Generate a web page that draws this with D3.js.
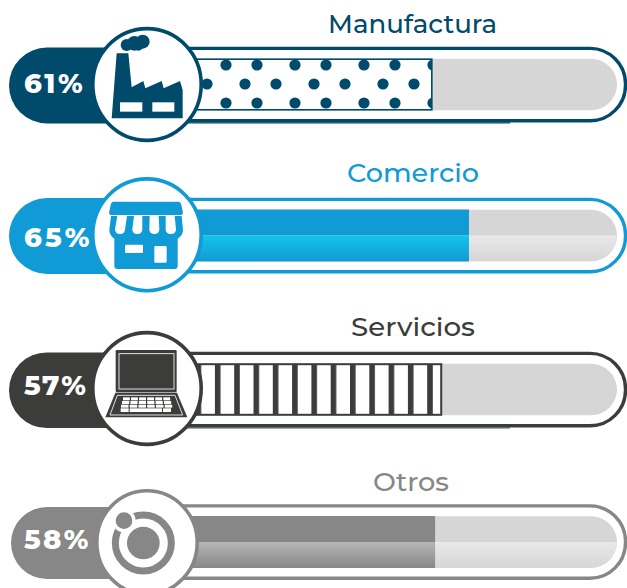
<!DOCTYPE html>
<html><head><meta charset="utf-8">
<script src="https://cdn.jsdelivr.net/npm/d3@7/dist/d3.min.js"></script>
<style>html,body{margin:0;padding:0;background:#fff}svg{display:block}</style></head>
<body><div id="chart"></div>
<script>
// ---- data ----
const categories = ["Manufactura", "Comercio", "Servicios", "Otros"];
const percentLabels = [61, 65, 57, 58];
// length of each bar as drawn in the picture, in % of the track
const barLevels = [60.6, 68.5, 62.6, 61.3];
const colors = ["#004a6c", "#109ad6", "#3c3c3b", "#878787"];

// ---- layout ----
const W = 627, H = 588;
const svg = d3.select("#chart").append("svg").attr("width", W).attr("height", H);
const font = "Montserrat, Inter, 'Open Sans', sans-serif";
const y = d3.scaleOrdinal().domain(categories).range([84.5, 235.5, 389.5, 542]);
const x = d3.scaleLinear().domain([0, 100]).range([147, 617]);
const circleR = [56, 56, 56, 52];
const circleNudge = [0, -0.7, -1, 0.5];
const pillLeft = [9, 9, 9, 11];
const pillTop = [-37, -37.5, -37, -35];
const pillHeight = [76, 76, 75.5, 72];
const titleLeft = [328, 347, 351, 373];
const titleWidth = [169, 132, 124, 76];
const labelWidth = [58.7, 65.3, 62, 64.3];
const labelBase = [8.2, 11, 5.5, 7];
const titleBase = [-51.5, -53.5, -53.5, -51];
const halfH = 26, outerH = 36.5, trackRight = x(100);

const defs = svg.append("defs");
// dots pattern
const dots = defs.append("pattern").attr("id", "dots").attr("patternUnits", "userSpaceOnUse")
  .attr("x", 200).attr("y", 55).attr("width", 69).attr("height", 38);
[[26,10],[57,10],[7,29],[45,29]].forEach(p =>
  dots.append("circle").attr("cx", p[0]).attr("cy", p[1]).attr("r", 5.6).attr("fill", colors[0]));
// stripes pattern
defs.append("pattern").attr("id", "stripes").attr("patternUnits", "userSpaceOnUse")
  .attr("x", 350).attr("y", 0).attr("width", 19.3).attr("height", 10)
  .append("rect").attr("width", 5.6).attr("height", 10).attr("fill", colors[2]);
function grad(id, a, b) {
  const g = defs.append("linearGradient").attr("id", id).attr("x1", 0).attr("x2", 0).attr("y1", 0).attr("y2", 1);
  g.append("stop").attr("offset", 0).attr("stop-color", a);
  g.append("stop").attr("offset", 1).attr("stop-color", b);
}
grad("glossBlue", "#14c4e8", "#109ad6");
grad("glossGrey", "#b7b7b7", "#878787");
grad("glossTrack", "#e9e9e9", "#d6d6d6");

const drawIcon = [drawFactory, drawStore, drawLaptop, drawOther];
const rows = svg.selectAll("g.row").data(categories).join("g").attr("class", "row");

rows.each(function (cat, i) {
  const g = d3.select(this), cy = y(cat), col = colors[i], rx = x(barLevels[i]);
  const L = pillLeft[i];
  // outer capsule
  g.append("rect").attr("x", x(0) - 60).attr("y", cy - outerH + .4).attr("width", 625.5 - x(0) + 60)
    .attr("height", outerH * 2 - .6).attr("rx", 35.5).attr("fill", "#fff").attr("stroke", col).attr("stroke-width", 3.4);
  // extra line under the capsule
  if (i === 0 || i === 2) {
    g.append("line").attr("x1", 110).attr("x2", 510).attr("y1", cy + outerH + 1.8).attr("y2", cy + outerH + 1.8)
      .attr("stroke", i === 0 ? col : "#4a5b63").attr("stroke-width", 1.2);
  }
  // track
  g.append("rect").attr("x", x(0) - 40).attr("y", cy - halfH + .2).attr("width", trackRight - x(0) + 40)
    .attr("height", halfH * 2 - .4).attr("rx", 26).attr("fill", "#d6d6d6");
  const glossy = i === 1 || i === 3;
  if (glossy) {
    const clipId = "clip" + i;
    defs.append("clipPath").attr("id", clipId).append("rect").attr("x", x(0) - 40).attr("y", cy - halfH + .2)
      .attr("width", trackRight - x(0) + 40).attr("height", halfH * 2 - .4).attr("rx", 26);
    g.append("rect").attr("x", x(0)).attr("y", cy).attr("width", trackRight - x(0)).attr("height", halfH)
      .attr("fill", "url(#glossTrack)").attr("clip-path", `url(#${clipId})`);
    g.append("rect").attr("x", x(0)).attr("y", cy - halfH).attr("width", rx - x(0)).attr("height", halfH).attr("fill", col);
    g.append("rect").attr("x", x(0)).attr("y", cy).attr("width", rx - x(0)).attr("height", halfH)
      .attr("fill", i === 1 ? "url(#glossBlue)" : "url(#glossGrey)");
  } else {
    g.append("rect").attr("x", x(0)).attr("y", cy - halfH + .7).attr("width", rx - x(0)).attr("height", halfH * 2 - 1.4)
      .attr("fill", "#fff").attr("stroke", "none");
    g.append("rect").attr("x", x(0)).attr("y", cy - halfH + .7).attr("width", rx - x(0)).attr("height", halfH * 2 - 1.4)
      .attr("fill", i === 0 ? "url(#dots)" : "url(#stripes)").attr("stroke", col).attr("stroke-width", i === 0 ? 1.6 : 2);
  }
  // left pill
  g.append("rect").attr("x", L).attr("y", cy + pillTop[i]).attr("width", x(0) - L).attr("height", pillHeight[i])
    .attr("rx", pillHeight[i] / 2).attr("fill", col);
  // circle (slightly taller than wide, as in the picture)
  g.append("ellipse").attr("cx", x(0)).attr("cy", cy + circleNudge[i]).attr("rx", circleR[i] - 1.8).attr("ry", circleR[i] * 1.03 - 1.8)
    .attr("fill", "#fff").attr("stroke", col).attr("stroke-width", 3.6);
  // icon, drawn in units of 1/3 px
  const icon = g.append("g").attr("fill", col);
  const iconY = [253.5, 226.5, 208.5, 216][i];
  icon.attr("transform", `translate(${x(0)},${cy}) scale(${1 / 3}) translate(-441,${-iconY})`);
  drawIcon[i](icon, col);
  // percentage
  g.append("text").attr("x", 24).attr("y", cy + labelBase[i]).attr("fill", "#fff")
    .attr("font-family", font).attr("font-weight", 800).attr("font-size", 27.5)
    .attr("textLength", labelWidth[i]).attr("lengthAdjust", "spacing")
    .text(percentLabels[i] + "%");
  // title
  g.append("text").attr("x", titleLeft[i]).attr("y", cy + titleBase[i]).attr("fill", col)
    .attr("font-family", font).attr("font-weight", 500).attr("font-size", 26)
    .attr("textLength", titleWidth[i]).attr("lengthAdjust", "spacingAndGlyphs")
    .text(cat);
});

function drawFactory(s) {
  s.append("path").attr("d", "M350 160H385L395 262L430 243L436 265L485 243L491 265L540 243L548 270V355H335Z");
  s.append("rect").attr("x", 360).attr("y", 307).attr("width", 67).attr("height", 28).attr("fill", "#fff");
  s.append("rect").attr("x", 457).attr("y", 307).attr("width", 66).attr("height", 28).attr("fill", "#fff");
  [[380,135,18],[403,130,22],[428,125,21],[415,138,14]].forEach(c =>
    s.append("circle").attr("cx", c[0]).attr("cy", c[1]).attr("r", c[2]));
}
function drawStore(s) {
  s.append("path").attr("d", "M340 125H535Q542 125 544 135L549 158Q549 165 542 165H334Q327 165 327 158L332 135Q334 125 340 125Z");
  s.append("path").attr("d", "M333 168H545L549 210Q548 228 533 236V318Q533 327 524 327H352Q343 327 343 318V236Q329 228 328 210Z");
  [[352,381,345,375],[402,427,397,427],[449,476,448,478],[497,524,497,528]].forEach(w => {
    s.append("path").attr("fill", "#fff").attr("d",
      `M${w[0]} 168H${w[1]}L${w[3]} 208Q${w[3]} 222 ${(w[2] + w[3]) / 2} 222Q${w[2]} 222 ${w[2]} 208Z`);
  });
  s.append("rect").attr("x", 375).attr("y", 254).attr("width", 54).attr("height", 25).attr("rx", 3).attr("fill", "#fff");
  s.append("rect").attr("x", 463).attr("y", 258).attr("width", 37).attr("height", 50).attr("rx", 3).attr("fill", "#fff");
}
function drawLaptop(s) {
  s.append("rect").attr("x", 347).attr("y", 90).attr("width", 183).attr("height", 127).attr("rx", 4);
  s.append("rect").attr("x", 357).attr("y", 101).attr("width", 165).attr("height", 106)
    .attr("fill", "none").attr("stroke", "#fff").attr("stroke-width", 2.5);
  s.append("path").attr("d", "M346 218H531L562 292H316Z");
  s.append("path").attr("d", "M352 226H525L548 285H330Z").attr("fill", "none").attr("stroke", "#fff").attr("stroke-width", 2.5);
  const rowsY = [232, 243, 254], xs = d3.range(6);
  rowsY.forEach((ky, r) => xs.forEach(k => {
    const w = 23 + r, left = 369 - r * 3 + k * (w + 1.2);
    s.append("rect").attr("x", left).attr("y", ky).attr("width", w - 2.5).attr("height", 9).attr("fill", "#fff");
  }));
  s.append("rect").attr("x", 362).attr("y", 265).attr("width", 24).attr("height", 11).attr("fill", "#fff");
  s.append("rect").attr("x", 389).attr("y", 265).attr("width", 97).attr("height", 11).attr("fill", "#fff");
  s.append("rect").attr("x", 489).attr("y", 265).attr("width", 24).attr("height", 11).attr("fill", "#fff");
}
function drawOther(s) {
  s.append("circle").attr("cx", 430).attr("cy", 219).attr("r", 84).attr("fill", "none").attr("stroke", colors[3]).attr("stroke-width", 21);
  s.append("circle").attr("cx", 430).attr("cy", 219).attr("r", 49);
  s.append("circle").attr("cx", 372).attr("cy", 152).attr("r", 35).attr("fill", "#fff");
  s.append("circle").attr("cx", 372).attr("cy", 152).attr("r", 25);
}
</script>
</body></html>
